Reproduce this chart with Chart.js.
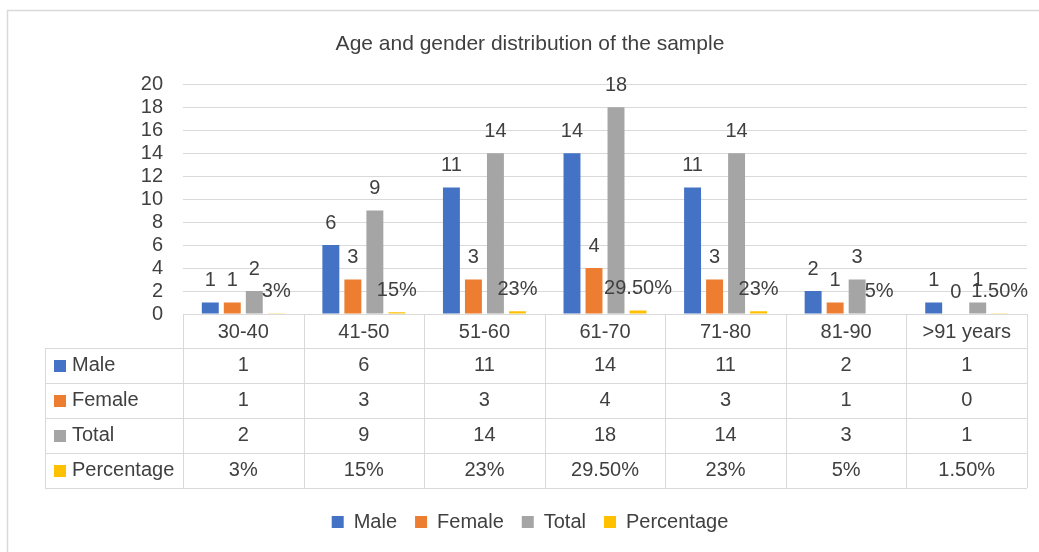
<!DOCTYPE html>
<html>
<head>
<meta charset="utf-8">
<script src="https://cdn.jsdelivr.net/npm/chart.js@4.4.1/dist/chart.umd.min.js"></script>
<style>
  html, body { margin: 0; padding: 0; background: #fff; }
  #wrap { width: 1039px; height: 552px; }
</style>
</head>
<body>
<div id="wrap"><canvas id="chart" width="1039" height="552"></canvas></div>
<script>
  const categories = ['30-40', '41-50', '51-60', '61-70', '71-80', '81-90', '>91 years'];
  const male = [1, 6, 11, 14, 11, 2, 1];
  const female = [1, 3, 3, 4, 3, 1, 0];
  const total = [2, 9, 14, 18, 14, 3, 1];
  const percentage = [0.03, 0.15, 0.23, 0.295, 0.23, 0.05, 0.015];
  const percentageLabels = ['3%', '15%', '23%', '29.50%', '23%', '5%', '1.50%'];
  const yMin = 0;
  const yMax = 20;
  const yStep = 2;

  const FONT = '"Liberation Sans", Arial, sans-serif';
  const TEXT = '#404040';
  const LINE = '#d9d9d9';

  // light frame round the chart, like the Excel chart border
  const frame = {
    id: 'frame',
    beforeDraw(chart) {
      const ctx = chart.ctx;
      ctx.save();
      ctx.fillStyle = '#fff';
      ctx.fillRect(0, 0, chart.width, chart.height);
      ctx.strokeStyle = LINE;
      ctx.lineWidth = 1.5;
      ctx.beginPath();
      ctx.moveTo(7.5, chart.height);
      ctx.lineTo(7.5, 10.5);
      ctx.lineTo(chart.width, 10.5);
      ctx.stroke();
      ctx.restore();
    }
  };

  // value labels above each bar
  const barLabels = {
    id: 'barLabels',
    afterDatasetsDraw(chart) {
      const ctx = chart.ctx;
      ctx.save();
      ctx.font = '20px ' + FONT;
      ctx.fillStyle = TEXT;
      ctx.textAlign = 'center';
      ctx.textBaseline = 'middle';
      chart.data.datasets.forEach(function (ds, i) {
        const meta = chart.getDatasetMeta(i);
        meta.data.forEach(function (bar, j) {
          ctx.fillText(ds.tableText[j], bar.x, bar.y - 22);
        });
      });
      ctx.restore();
    }
  };

  // data table under the x axis
  const dataTable = {
    id: 'dataTable',
    afterDraw(chart) {
      const ctx = chart.ctx;
      const area = chart.chartArea;
      const x = chart.scales.x;
      const top = area.bottom;
      const headH = 34;
      const rowH = 35;
      const labelLeft = 45;
      const n = categories.length;
      const step = (area.right - area.left) / n;
      const rows = chart.data.datasets.length;
      const bottom = top + headH + rows * rowH;

      ctx.save();
      ctx.strokeStyle = LINE;
      ctx.lineWidth = 1;
      ctx.beginPath();
      for (let i = 0; i <= n; i++) {
        const px = Math.round(area.left + i * step) + 0.5;
        ctx.moveTo(px, top);
        ctx.lineTo(px, bottom);
      }
      ctx.moveTo(labelLeft + 0.5, top + headH);
      ctx.lineTo(labelLeft + 0.5, bottom);
      for (let r = 0; r <= rows; r++) {
        const py = Math.round(top + headH + r * rowH) + 0.5;
        ctx.moveTo(labelLeft, py);
        ctx.lineTo(area.right, py);
      }
      ctx.stroke();

      ctx.font = '20px ' + FONT;
      ctx.textBaseline = 'middle';
      chart.data.datasets.forEach(function (ds, r) {
        const cy = top + headH + r * rowH + rowH / 2;
        ctx.fillStyle = ds.backgroundColor;
        ctx.fillRect(labelLeft + 9, Math.round(cy - 6), 12, 12);
        ctx.fillStyle = TEXT;
        ctx.textAlign = 'left';
        ctx.fillText(ds.label, labelLeft + 27, cy);
        ctx.textAlign = 'center';
        ds.tableText.forEach(function (t, i) {
          ctx.fillText(t, x.getPixelForValue(i), cy);
        });
      });
      ctx.restore();
    }
  };

  new Chart(document.getElementById('chart'), {
    type: 'bar',
    data: {
      labels: categories,
      datasets: [
        { label: 'Male', data: male, backgroundColor: '#4472c4', tableText: male.map(String) },
        { label: 'Female', data: female, backgroundColor: '#ed7d31', tableText: female.map(String) },
        { label: 'Total', data: total, backgroundColor: '#a5a5a5', tableText: total.map(String) },
        { label: 'Percentage', data: percentage, backgroundColor: '#ffc000', tableText: percentageLabels },
      ],
    },
    options: {
      responsive: false,
      animation: false,
      layout: { padding: { left: 33, right: 12, top: 0, bottom: 10 } },
      datasets: { bar: { categoryPercentage: 0.73, barPercentage: 0.77, borderWidth: 0 } },
      plugins: {
        title: {
          display: true,
          text: 'Age and gender distribution of the sample',
          color: TEXT,
          font: { family: FONT, size: 21, weight: 'normal' },
          padding: { top: 32, bottom: 27 },
        },
        legend: {
          position: 'bottom',
          labels: {
            boxWidth: 12,
            boxHeight: 12,
            padding: 18,
            color: TEXT,
            font: { family: FONT, size: 20 },
          },
        },
        tooltip: { enabled: false },
      },
      scales: {
        x: {
          grid: { display: false },
          border: { display: true, color: LINE },
          ticks: {
            padding: -2,
            color: TEXT,
            font: { family: FONT, size: 20 },
            maxRotation: 0,
            autoSkip: false,
          },
          afterFit: function (scale) {
            scale.height = 180;
          },
        },
        y: {
          min: yMin,
          max: yMax,
          ticks: {
            stepSize: yStep,
            autoSkip: false,
            padding: 20,
            color: TEXT,
            font: { family: FONT, size: 20 },
          },
          grid: { color: LINE, drawTicks: false },
          border: { display: false },
          afterFit: function (scale) {
            scale.width = 150;
          },
        },
      },
    },
    plugins: [frame, barLabels, dataTable],
  });
</script>
</body>
</html>
